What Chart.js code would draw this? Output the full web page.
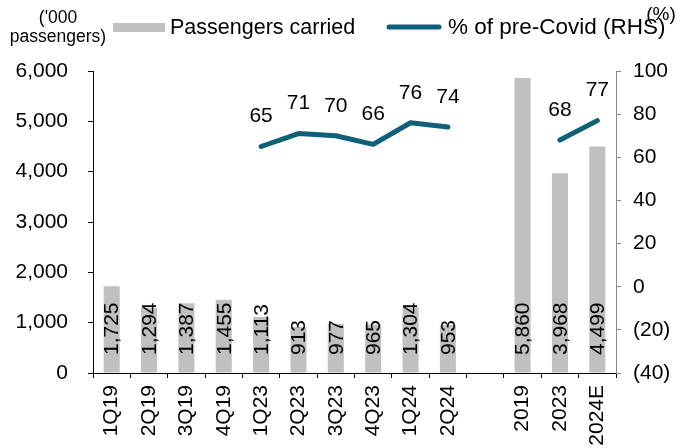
<!DOCTYPE html>
<html>
<head>
<meta charset="utf-8">
<script src="https://cdn.jsdelivr.net/npm/chart.js@4/dist/chart.umd.min.js"></script>
<style>
html,body{margin:0;padding:0;background:#fff;}
#wrap{position:relative;width:678px;height:448px;}
</style>
</head>
<body>
<div id="wrap"><canvas id="c" width="678" height="448"></canvas></div>
<script>
const categories = ['1Q19','2Q19','3Q19','4Q19','1Q23','2Q23','3Q23','4Q23','1Q24','2Q24','','2019','2023','2024E'];
const passengers = [1725,1294,1387,1455,1113,913,977,965,1304,953,null,5860,3968,4499];
const pctPreCovid = [null,null,null,null,65,71,70,66,76,74,null,null,68,77];
const leftTicks = {min:0, max:6000, step:1000};
const rightTicks = {min:-40, max:100, step:20};
const seriesNames = ['Passengers carried','% of pre-Covid (RHS)'];
const leftUnit = ["('000", "passengers)"];
const rightUnit = '(%)';

const FONT = "'Liberation Sans', Arial, sans-serif";
const BAR = '#c0c0c0';
const TEAL = '#0e5f77';

const labelPlugin = {
  id: 'labels',
  afterDatasetsDraw(chart) {
    const ctx = chart.ctx;
    const barMeta = chart.getDatasetMeta(0);
    ctx.save();
    ctx.fillStyle = '#000';
    ctx.font = '21px ' + FONT;
    barMeta.data.forEach((el, i) => {
      const v = passengers[i];
      if (v == null) return;
      ctx.save();
      ctx.translate(el.x, 355);
      ctx.rotate(-Math.PI / 2);
      ctx.textAlign = 'left';
      ctx.textBaseline = 'middle';
      ctx.fillText(v.toLocaleString('en-US'), 0, 1);
      ctx.restore();
    });
    const lineMeta = chart.getDatasetMeta(1);
    ctx.textAlign = 'center';
    ctx.textBaseline = 'middle';
    lineMeta.data.forEach((el, i) => {
      const v = pctPreCovid[i];
      if (v == null) return;
      ctx.fillText(String(v), el.x, el.y - 30);
    });
    ctx.restore();
  },
  afterDraw(chart) {
    const ctx = chart.ctx;
    ctx.save();
    // legend
    ctx.fillStyle = BAR;
    ctx.fillRect(113, 23, 52, 9);
    ctx.fillStyle = '#000';
    ctx.font = '21.5px ' + FONT;
    ctx.textAlign = 'left';
    ctx.textBaseline = 'alphabetic';
    ctx.fillText(seriesNames[0], 170, 34);
    ctx.strokeStyle = TEAL;
    ctx.lineWidth = 5;
    ctx.lineCap = 'round';
    ctx.beginPath();
    ctx.moveTo(389, 27);
    ctx.lineTo(439, 27);
    ctx.stroke();
    ctx.font = '22.5px ' + FONT;
    ctx.fillText(seriesNames[1], 448, 34);
    // axis units
    ctx.font = '17.5px ' + FONT;
    ctx.textAlign = 'center';
    ctx.fillText(leftUnit[0], 58, 23);
    ctx.fillText(leftUnit[1], 58, 42);
    ctx.font = '19px ' + FONT;
    ctx.fillText(rightUnit, 661, 20);
    ctx.restore();
  }
};

new Chart(document.getElementById('c'), {
  data: {
    labels: categories,
    datasets: [
      {
        type: 'bar',
        label: seriesNames[0],
        data: passengers,
        backgroundColor: BAR,
        borderWidth: 0,
        categoryPercentage: 1,
        barPercentage: 0.43,
        yAxisID: 'y',
        order: 1
      },
      {
        type: 'line',
        label: seriesNames[1],
        data: pctPreCovid,
        borderColor: TEAL,
        backgroundColor: TEAL,
        borderWidth: 5,
        borderCapStyle: 'round',
        borderJoinStyle: 'round',
        pointRadius: 0,
        pointHoverRadius: 0,
        tension: 0,
        spanGaps: false,
        yAxisID: 'y2',
        order: 0
      }
    ]
  },
  options: {
    responsive: false,
    animation: false,
    devicePixelRatio: 1,
    layout: { padding: { top: 71, left: 0, right: 0, bottom: 0 } },
    plugins: { legend: { display: false }, tooltip: { enabled: false } },
    scales: {
      x: {
        position: 'bottom',
        offset: true,
        afterFit: s => { s.height = 75; },
        grid: { display: true, offset: true, drawOnChartArea: false, drawTicks: true, tickLength: 5, color: '#000', lineWidth: 1 },
        border: { display: true, color: '#000', width: 1 },
        ticks: { minRotation: 90, maxRotation: 90, autoSkip: false, padding: 7, color: '#000', font: { family: FONT, size: 21 } }
      },
      y: {
        position: 'left',
        min: leftTicks.min, max: leftTicks.max,
        afterFit: s => { s.width = 93; },
        grid: { display: true, drawOnChartArea: false, drawTicks: true, tickLength: 5, color: '#000' },
        border: { display: true, color: '#000', width: 1 },
        ticks: { stepSize: leftTicks.step, padding: 20, color: '#000', font: { family: FONT, size: 21 },
          callback: v => Number(v).toLocaleString('en-US') }
      },
      y2: {
        position: 'right',
        min: rightTicks.min, max: rightTicks.max,
        afterFit: s => { s.width = 62; },
        grid: { display: true, drawOnChartArea: false, drawTicks: true, tickLength: 5, color: '#8a8a8a' },
        border: { display: true, color: '#8a8a8a', width: 1 },
        ticks: { stepSize: rightTicks.step, padding: 12, color: '#000', font: { family: FONT, size: 21 },
          callback: v => v < 0 ? '(' + (-v) + ')' : String(v) }
      }
    }
  },
  plugins: [labelPlugin]
});
</script>
</body>
</html>
